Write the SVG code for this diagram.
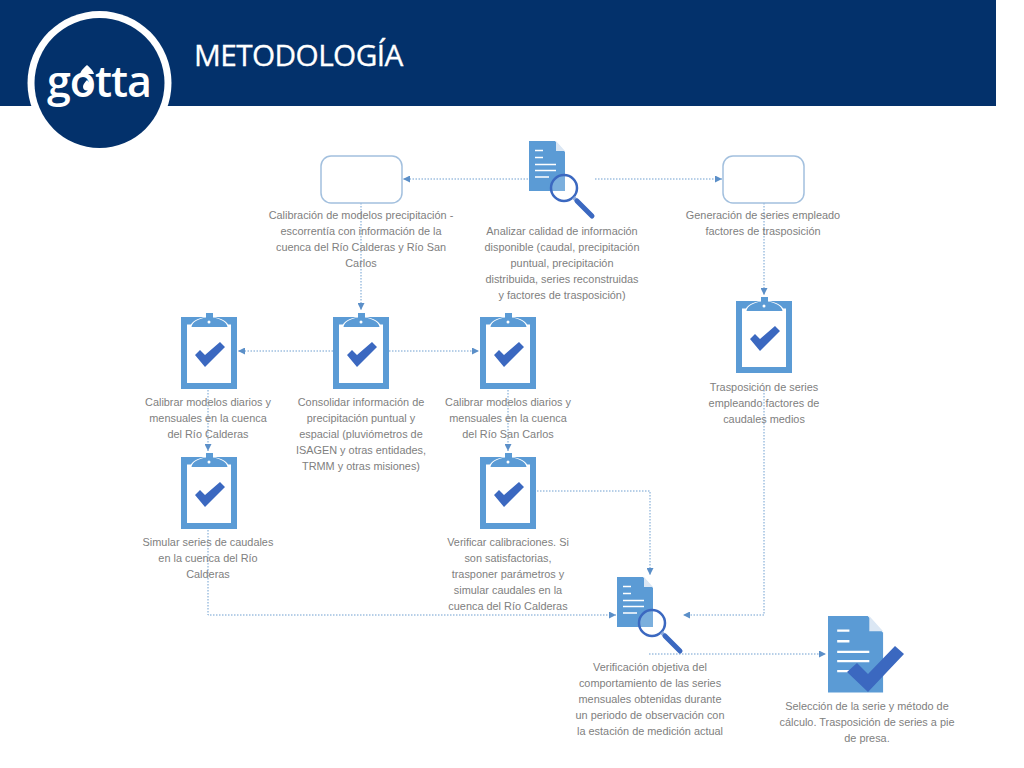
<svg xmlns="http://www.w3.org/2000/svg" width="1024" height="768" viewBox="0 0 1024 768">
<style>
.t{font-family:"Liberation Sans",Arial,sans-serif;font-size:10.900px;fill:#808080;text-anchor:middle}
.c{fill:none;stroke:#6f9fd0;stroke-width:1;stroke-dasharray:1.500 1.500}
.lb{fill:#5b9bd5}
.dk{fill:#3b68c0}
.w{stroke:#fff;stroke-width:1.500;fill:none}
.box{fill:#fff;stroke:#a3c0de;stroke-width:1.500}
</style>
<defs>
<marker id="a" markerWidth="7" markerHeight="7" refX="7" refY="3.500" orient="auto" markerUnits="userSpaceOnUse"><path d="M0 0L7 3.500L0 7Z" fill="#5b8fc8"/></marker>
<g id="clip">
<rect x="0" y="5" width="56" height="72" class="lb"/>
<rect x="6" y="12.500" width="44" height="58.500" fill="#fff"/>
<path d="M9 15.500C9 10 17 6 25 5V1H32V5C40 6 48 10 48 15.500Z" fill="#fff"/>
<path d="M10.500 15C11 10 18 6.500 25 5.500V1H32V5.500C39 6.500 46 10 46.500 15Z" class="lb"/>
<circle cx="28" cy="10" r="1.500" fill="#fff"/>
<path d="M14 43L19 38L24 43L39 30L44 35L24 55Z" class="dk"/>
</g>
<g id="doc">
<path d="M0 0H26L36 11V50H0Z" class="lb"/>
<path d="M27 0L36 10H27Z" fill="#dbe7f4"/>
<path d="M6 9.500H14M6 16.500H14M6 23.500H27M6 29.500H27M6 36H20" class="w"/>
</g>
<g id="lens">
<circle cx="0" cy="0" r="13" fill="#fff" fill-opacity=".2" stroke="#3b68c0" stroke-width="2.500"/>
<path d="M9.500 9.500L13 13" stroke="#8eaadb" stroke-width="3.500"/>
<path d="M13 13L28 28" stroke="#3b68c0" stroke-width="5" stroke-linecap="round"/>
</g>
</defs>
<rect width="1024" height="768" fill="#fff"/>
<g id="header">
<rect width="996" height="106" fill="#03316b"/>
<circle cx="99.500" cy="83" r="72" fill="#fff"/>
<circle cx="99.500" cy="83" r="65" fill="#03316b"/>
<text x="194" y="66" font-family="'Open Sans','Noto Sans',sans-serif" font-size="29.800" fill="#fff" stroke="#fff" stroke-width=".3" letter-spacing="-.6">METODOLOGÍA</text>
<text x="47" y="97" font-family="'Open Sans','Noto Sans',sans-serif" font-weight="600" font-size="43" fill="#fff" textLength="105">gotta</text>
<path d="M87 65q-6 5-7 9h14q-1-4-7-9z" fill="#fff"/>
<path d="M87 80q-4 4-4 6.500a4 4 0 0 0 8 0q0-2.500-4-6.500z" fill="#fff"/>
</g>
<g id="connectors">
<path class="c" d="M528 179H403" marker-end="url(#a)"/>
<path class="c" d="M595 179H722" marker-end="url(#a)"/>
<path class="c" d="M361 203V310" marker-end="url(#a)"/>
<path class="c" d="M764 203V295" marker-end="url(#a)"/>
<path class="c" d="M333 351H238" marker-end="url(#a)"/>
<path class="c" d="M389 351H479" marker-end="url(#a)"/>
<path class="c" d="M208 390V451" marker-end="url(#a)"/>
<path class="c" d="M508 390V451" marker-end="url(#a)"/>
<path class="c" d="M537 491H650V575" marker-end="url(#a)"/>
<path class="c" d="M208 530V615H616" marker-end="url(#a)"/>
<path class="c" d="M764 390V615H683" marker-end="url(#a)"/>
<path class="c" d="M649 654H826" marker-end="url(#a)"/>
</g>
<g id="n1"><rect class="box" x="321" y="156" width="81" height="47" rx="10"/>
<text class="t"><tspan x="361" y="219">Calibración de modelos precipitación -</tspan><tspan x="361" y="235">escorrentía con información de la</tspan><tspan x="361" y="251">cuenca del Río Calderas y Río San</tspan><tspan x="361" y="267">Carlos</tspan></text></g>
<g id="n2"><use href="#doc" x="529" y="141"/><use href="#lens" x="564" y="188"/>
<text class="t"><tspan x="562" y="235">Analizar calidad de información</tspan><tspan x="562" y="251">disponible (caudal, precipitación</tspan><tspan x="562" y="267">puntual, precipitación</tspan><tspan x="562" y="283">distribuida, series reconstruidas</tspan><tspan x="562" y="299">y factores de trasposición)</tspan></text></g>
<g id="n3"><rect class="box" x="723" y="156" width="81" height="47" rx="10"/>
<text class="t"><tspan x="763" y="219">Generación de series empleado</tspan><tspan x="763" y="235">factores de trasposición</tspan></text></g>
<g id="n4"><use href="#clip" x="181" y="312"/>
<text class="t"><tspan x="208" y="406">Calibrar modelos diarios y</tspan><tspan x="208" y="422">mensuales en la cuenca</tspan><tspan x="208" y="438">del Río Calderas</tspan></text></g>
<g id="n5"><use href="#clip" x="333" y="312"/>
<text class="t"><tspan x="361" y="406">Consolidar información de</tspan><tspan x="361" y="422">precipitación puntual y</tspan><tspan x="361" y="438">espacial (pluviómetros de</tspan><tspan x="361" y="454">ISAGEN y otras entidades,</tspan><tspan x="361" y="470">TRMM y otras misiones)</tspan></text></g>
<g id="n6"><use href="#clip" x="480" y="312"/>
<text class="t"><tspan x="508" y="406">Calibrar modelos diarios y</tspan><tspan x="508" y="422">mensuales en la cuenca</tspan><tspan x="508" y="438">del Río San Carlos</tspan></text></g>
<g id="n7"><use href="#clip" x="736" y="296"/>
<text class="t"><tspan x="764" y="391">Trasposición de series</tspan><tspan x="764" y="407">empleando factores de</tspan><tspan x="764" y="423">caudales medios</tspan></text></g>
<g id="n8"><use href="#clip" x="181" y="452"/>
<text class="t"><tspan x="208" y="546">Simular series de caudales</tspan><tspan x="208" y="562">en la cuenca del Río</tspan><tspan x="208" y="578">Calderas</tspan></text></g>
<g id="n9"><use href="#clip" x="480" y="452"/>
<text class="t"><tspan x="508" y="546">Verificar calibraciones. Si</tspan><tspan x="508" y="562">son satisfactorias,</tspan><tspan x="508" y="578">trasponer parámetros y</tspan><tspan x="508" y="594">simular caudales en la</tspan><tspan x="508" y="610">cuenca del Río Calderas</tspan></text></g>
<g id="n10"><use href="#doc" x="617" y="577"/><use href="#lens" x="652" y="623"/>
<text class="t"><tspan x="650" y="671">Verificación objetiva del</tspan><tspan x="650" y="687">comportamiento de las series</tspan><tspan x="650" y="703">mensuales obtenidas durante</tspan><tspan x="650" y="719">un periodo de observación con</tspan><tspan x="650" y="735">la estación de medición actual</tspan></text></g>
<g id="n11"><use href="#doc" transform="translate(828 616) scale(1.530)"/>
<path d="M847 672L857 663L868 674L895 646L904 654L868 692Z" class="dk"/>
<text class="t"><tspan x="867" y="710">Selección de la serie y método de</tspan><tspan x="867" y="726">cálculo. Trasposición de series a pie</tspan><tspan x="867" y="742">de presa.</tspan></text></g>
</svg>
